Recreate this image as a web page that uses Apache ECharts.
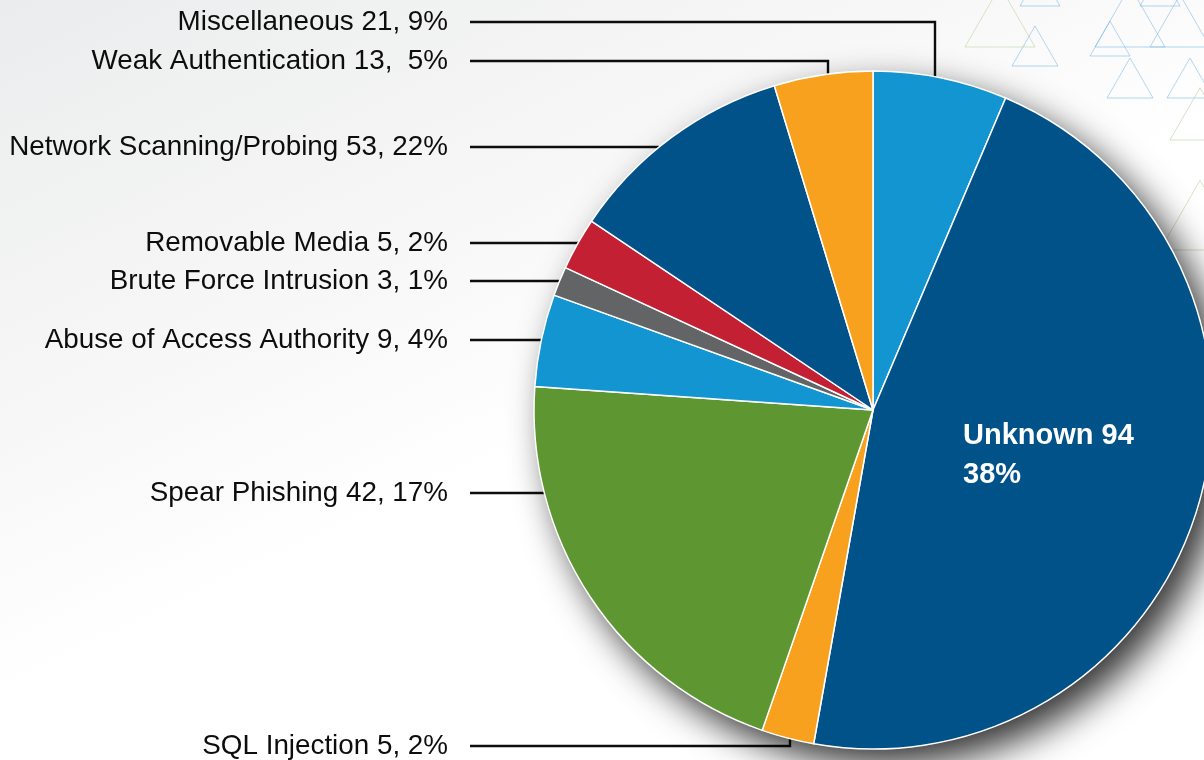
<!DOCTYPE html>
<html>
<head>
<meta charset="utf-8">
<script src="https://cdn.jsdelivr.net/npm/echarts@6/dist/echarts.min.js"></script>
<style>
html, body { margin: 0; padding: 0; }
#chart { width: 1204px; height: 760px; }
</style>
</head>
<body>
<div id="chart"></div>
<script>
// clockwise from 12 o'clock
const categories = ['Miscellaneous', 'Unknown', 'SQL Injection', 'Spear Phishing', 'Abuse of Access Authority',
  'Brute Force Intrusion', 'Removable Media', 'Network Scanning/Probing', 'Weak Authentication']
const incidentCounts = [21, 94, 5, 42, 9, 3, 5, 53, 13]
const percentText = ['9%', '38%', '2%', '17%', '4%', '1%', '2%', '22%', ' 5%']
// slice sizes as they are drawn in the picture (% of the circle)
const sliceShares = [6.4, 46.4, 2.5, 20.8, 4.4, 1.4, 2.5, 10.9, 4.7]

const colors = ['#1395d2', '#02528a', '#f7a11e', '#5e9732', '#1395d2', '#636466', '#c42033', '#02528a', '#f7a11e']

// layout
const CX = 873, CY = 410, R = 339
const TEXT_X = 448, LINE_X = 470
const labelY = [22, null, 746, 493, 340, 281, 243, 147, 61]
const bendX = [935, null, 790, null, null, null, null, null, 828]

const chart = echarts.init(document.getElementById('chart'))

const tri = (x, y, s, c) => ({
  type: 'polygon',
  shape: { points: [[x, y - s * 0.87], [x - s / 2, y], [x + s / 2, y]] },
  style: { fill: 'none', stroke: c, lineWidth: 1 },
  silent: true
})
const blueT = 'rgba(110,175,230,0.5)'
const greenT = 'rgba(170,200,140,0.5)'
const whiteT = 'rgba(255,255,255,0.9)'

chart.setOption({
  backgroundColor: new echarts.graphic.LinearGradient(0, 0, 0.3, 1, [
    { offset: 0, color: '#ebeced' },
    { offset: 0.5, color: '#f8f8f8' },
    { offset: 0.75, color: '#ffffff' },
    { offset: 1, color: '#ffffff' }
  ]),
  graphic: [
    tri(1000, 47, 70, whiteT),
    tri(1130, 47, 70, blueT),
    tri(1180, 47, 60, blueT),
    tri(1035, 66, 46, blueT),
    tri(1110, 56, 40, blueT),
    tri(1130, 98, 46, blueT),
    tri(1000, 47, 70, greenT),
    tri(1200, 140, 60, greenT),
    tri(1160, 6, 40, blueT),
    tri(1040, 6, 40, blueT),
    tri(1190, 98, 46, blueT),
    tri(1200, 250, 80, greenT),
    tri(1150, 200, 60, whiteT)
  ],
  series: [
    {
      // drop shadow under the pie
      type: 'pie',
      center: [CX, CY],
      radius: R,
      silent: true,
      label: { show: false },
      labelLine: { show: false },
      itemStyle: {
        color: '#6a6a6a',
        shadowBlur: 36,
        shadowOffsetX: 14,
        shadowOffsetY: 16,
        shadowColor: 'rgba(0,0,0,0.8)'
      },
      data: [{ value: 1 }]
    },
    {
      type: 'pie',
      center: [CX, CY],
      radius: R,
      startAngle: 90,
      clockwise: true,
      avoidLabelOverlap: false,
      silent: true,
      itemStyle: { borderColor: '#ffffff', borderWidth: 1.5 },
      label: {
        show: true,
        position: 'outside',
        color: '#0d0d0d',
        fontFamily: 'Liberation Sans, Arial, sans-serif',
        fontSize: 27.8,
        formatter: (p) => categories[p.dataIndex] + ' ' + incidentCounts[p.dataIndex] + ', ' + percentText[p.dataIndex]
      },
      labelLine: {
        show: true,
        lineStyle: { color: '#0d0d0d', width: 2.4 }
      },
      labelLayout: (p) => {
        const i = p.dataIndex
        if (i === 1) {
          return { x: 963, y: 455, align: 'left', verticalAlign: 'middle' }
        }
        const y = labelY[i]
        let pts
        if (bendX[i] != null) {
          const dx = bendX[i] - CX
          const dy = Math.sqrt(R * R - dx * dx)
          const ey = y < CY ? CY - dy : CY + dy
          pts = [[bendX[i], ey], [bendX[i], y], [LINE_X, y]]
        } else {
          const ex = CX - Math.sqrt(R * R - (y - CY) * (y - CY))
          pts = [[ex, y], [(ex + LINE_X) / 2, y], [LINE_X, y]]
        }
        return { x: TEXT_X, y: y, align: 'right', verticalAlign: 'middle', labelLinePoints: pts }
      },
      data: categories.map((name, i) => {
        const item = { name: name, value: sliceShares[i], itemStyle: { color: colors[i] } }
        if (i === 1) {
          item.label = {
            color: '#ffffff',
            fontWeight: 'bold',
            fontSize: 29,
            lineHeight: 39,
            formatter: () => categories[1] + ' ' + incidentCounts[1] + '\n' + percentText[1]
          }
          item.labelLine = { show: false }
        }
        return item
      })
    }
  ]
})
</script>
</body>
</html>
